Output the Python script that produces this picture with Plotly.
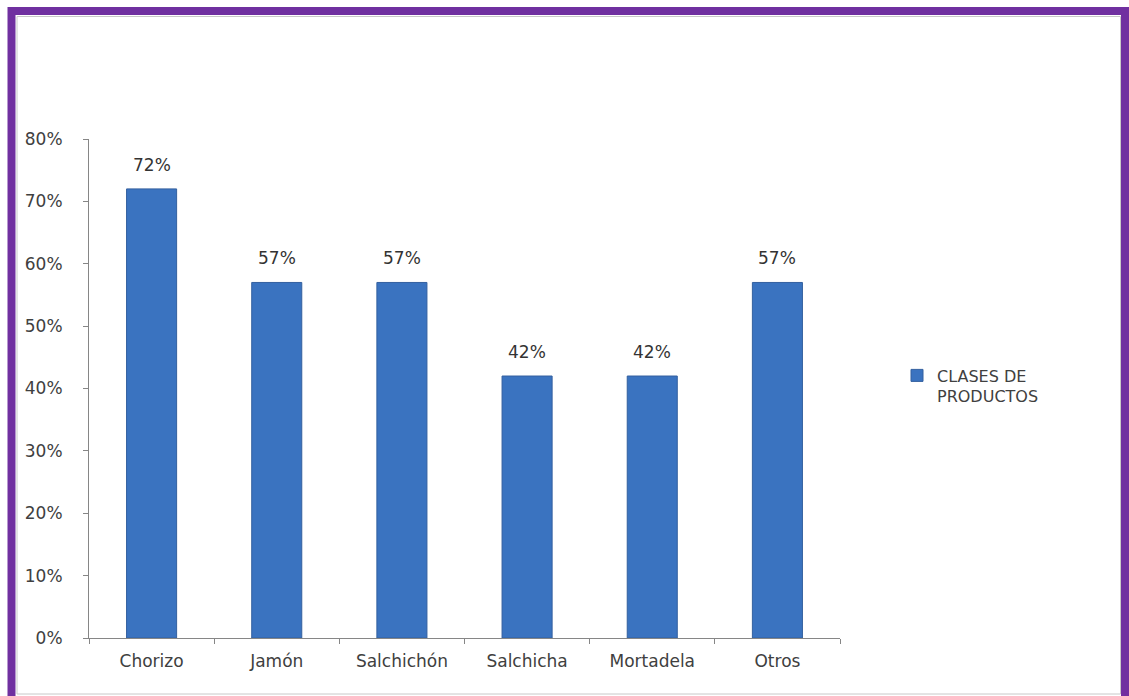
import plotly.graph_objects as go

# Share of each product class
categories = ["Chorizo", "Jamón", "Salchichón", "Salchicha", "Mortadela", "Otros"]
shares = [0.72, 0.57, 0.57, 0.42, 0.42, 0.57]
series_name = "CLASES DE<br>PRODUCTOS"
y_ticks = [0, 0.1, 0.2, 0.3, 0.4, 0.5, 0.6, 0.7, 0.8]

W, H = 1129, 696
ML, MR, MT, MB = 89, 289, 139, 58
PW, PH = W - ML - MR, H - MT - MB


def px_x(px):
    return (px - ML) / PW


def px_y(py):
    return (H - MB - py) / PH


FONT = "DejaVu Sans"
TXT = "#404040"
BAR = "#3a73c0"

fig = go.Figure()
fig.add_trace(go.Bar(
    x=categories,
    y=shares,
    name=series_name,
    width=0.4,
    marker=dict(color=BAR, line=dict(color="#33609f", width=1)),
    showlegend=True,
))

# value labels above each bar
for cat, val in zip(categories, shares):
    fig.add_annotation(
        x=cat, y=val, text=f"{round(val * 100)}%",
        showarrow=False, yanchor="bottom", yshift=12,
        font=dict(family=FONT, size=17, color="#333333"),
    )

# outer purple frame and thin inner rule
fig.add_shape(type="rect", xref="paper", yref="paper",
              x0=px_x(11.5), x1=px_x(1125), y0=px_y(730), y1=px_y(11),
              line=dict(color="#7030a0", width=8), layer="below")
fig.add_shape(type="rect", xref="paper", yref="paper",
              x0=px_x(17), x1=px_x(1120.5), y0=px_y(694), y1=px_y(16.5),
              line=dict(color="#c8c8c8", width=1), layer="below")

fig.update_layout(
    width=W, height=H,
    margin=dict(l=ML, r=MR, t=MT, b=MB, pad=0),
    paper_bgcolor="white", plot_bgcolor="white",
    bargap=0.6,
    font=dict(family=FONT, size=17, color=TXT),
    legend=dict(
        x=px_x(897), y=px_y(386), xanchor="left", yanchor="middle",
        font=dict(family=FONT, size=16, color=TXT),
        valign="top", bgcolor="rgba(0,0,0,0)",
    ),
    xaxis=dict(
        type="category",
        showline=True, linecolor="#868686", linewidth=1,
        ticks="outside", ticklen=5, tickcolor="#868686",
        tickson="boundaries",
        showgrid=False, zeroline=False,
        ticklabelstandoff=8,
        tickfont=dict(family=FONT, size=17, color=TXT),
    ),
    yaxis=dict(
        range=[0, 0.8],
        tickvals=y_ticks,
        tickformat=".0%",
        showline=True, linecolor="#868686", linewidth=1,
        ticks="outside", ticklen=5, tickcolor="#868686",
        showgrid=False, zeroline=False,
        ticklabelstandoff=17,
        tickfont=dict(family=FONT, size=17, color=TXT),
    ),
)

fig.write_html("out.html")
